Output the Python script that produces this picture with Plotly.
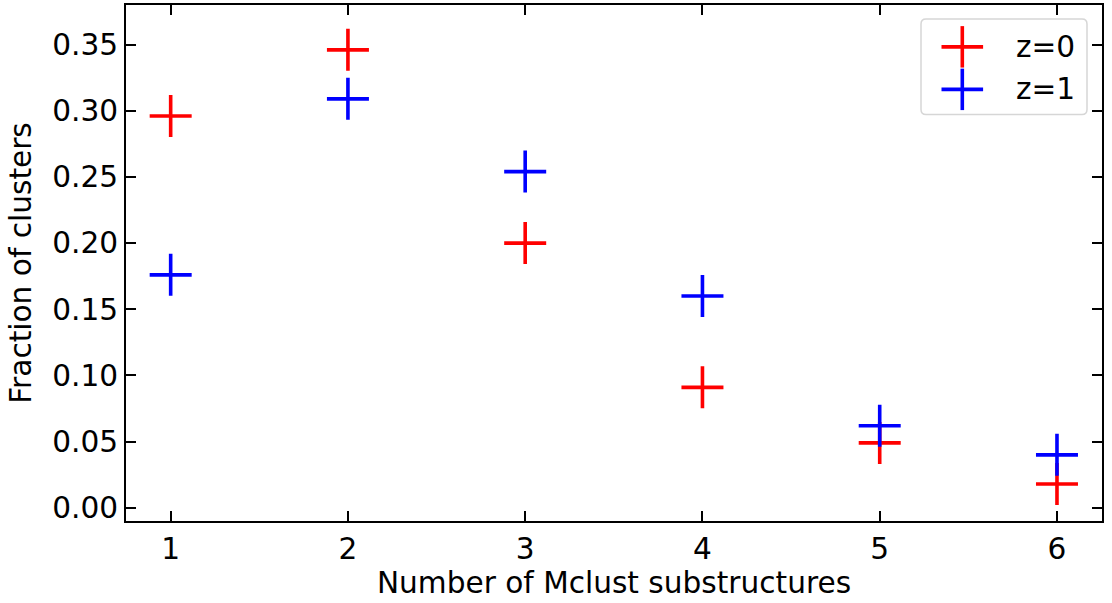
import plotly.graph_objects as go

# Fraction of clusters by number of Mclust substructures, for two redshifts
n_sub = [1, 2, 3, 4, 5, 6]
frac_z0 = [0.296, 0.346, 0.200, 0.091, 0.049, 0.018]
frac_z1 = [0.176, 0.309, 0.254, 0.160, 0.062, 0.040]
series_names = ["z=0", "z=1"]
series_colors = ["#ff0000", "#0000ff"]
y_tick_vals = [0.00, 0.05, 0.10, 0.15, 0.20, 0.25, 0.30, 0.35]

FONT = "DejaVu Sans"
FS = 29.6
W, H = 1112, 603
M_L, M_R, M_T, M_B = 126, 10, 3, 82

fig = go.Figure()
for ys, name, col in zip([frac_z0, frac_z1], series_names, series_colors):
    fig.add_trace(go.Scatter(
        x=n_sub, y=ys, mode="markers", name=name, showlegend=False,
        marker=dict(symbol="cross-thin", size=30, color=col,
                    line=dict(color=col, width=3.6)),
    ))


def px_to_paper(px, py):
    """Convert page pixel coordinates to paper coordinates of the plot area."""
    pw = W - M_L - M_R
    ph = H - M_T - M_B
    return (px - M_L) / pw, (H - M_B - py) / ph


def rounded_box(left, top, right, bottom, r):
    """SVG path (paper coordinates) for a rectangle with rounded corners."""
    pts = []

    def p(x, y):
        u, v = px_to_paper(x, y)
        return f"{u:.5f},{v:.5f}"

    pts.append("M" + p(left + r, top))
    pts.append("L" + p(right - r, top))
    pts.append("Q" + p(right, top) + " " + p(right, top + r))
    pts.append("L" + p(right, bottom - r))
    pts.append("Q" + p(right, bottom) + " " + p(right - r, bottom))
    pts.append("L" + p(left + r, bottom))
    pts.append("Q" + p(left, bottom) + " " + p(left, bottom - r))
    pts.append("L" + p(left, top + r))
    pts.append("Q" + p(left, top) + " " + p(left + r, top))
    pts.append("Z")
    return " ".join(pts)


shapes = []
annotations = []
# legend frame
shapes.append(dict(type="path", xref="paper", yref="paper",
                   path=rounded_box(921, 17, 1087, 113, 5),
                   line=dict(color="#d6d6d6", width=1.5), fillcolor="rgba(255,255,255,0.8)",
                   layer="above"))
# legend entries: cross glyph + label
for i, (name, col) in enumerate(zip(series_names, series_colors)):
    cy = 45 + i * 42.7
    cx = 962.3
    a = 20.8
    hx0, hy = px_to_paper(cx - a, cy)
    hx1, _ = px_to_paper(cx + a, cy)
    vx, vy0 = px_to_paper(cx, cy + a)
    _, vy1 = px_to_paper(cx, cy - a)
    shapes.append(dict(type="line", xref="paper", yref="paper", x0=hx0, x1=hx1, y0=hy, y1=hy,
                       line=dict(color=col, width=3.6), layer="above"))
    shapes.append(dict(type="line", xref="paper", yref="paper", x0=vx, x1=vx, y0=vy0, y1=vy1,
                       line=dict(color=col, width=3.6), layer="above"))
    tx, ty = px_to_paper(1014, cy)
    annotations.append(dict(text=name, xref="paper", yref="paper", x=tx, y=ty,
                            xanchor="left", yanchor="middle", showarrow=False,
                            font=dict(family=FONT, size=FS, color="black")))

axis_common = dict(
    showline=True, linecolor="black", linewidth=2, mirror="ticks",
    ticks="inside", ticklen=10, tickwidth=1.6, tickcolor="black",
    showgrid=False, zeroline=False,
    tickfont=dict(family=FONT, size=FS, color="black"),
)

fig.update_layout(
    width=W, height=H,
    margin=dict(l=M_L, r=M_R, t=M_T, b=M_B),
    paper_bgcolor="white", plot_bgcolor="white",
    font=dict(family=FONT, size=FS, color="black"),
    showlegend=False,
    shapes=shapes,
    annotations=annotations,
    xaxis=dict(axis_common, range=[0.748, 6.254], tickvals=n_sub,
               title=dict(text="Number of Mclust substructures", standoff=6,
                          font=dict(family=FONT, size=FS, color="black"))),
    yaxis=dict(axis_common, range=[-0.0100, 0.3799], tickvals=y_tick_vals, tickformat=".2f",
               title=dict(text="Fraction of clusters", standoff=12,
                          font=dict(family=FONT, size=FS, color="black"))),
)

fig.write_html("out.html")
